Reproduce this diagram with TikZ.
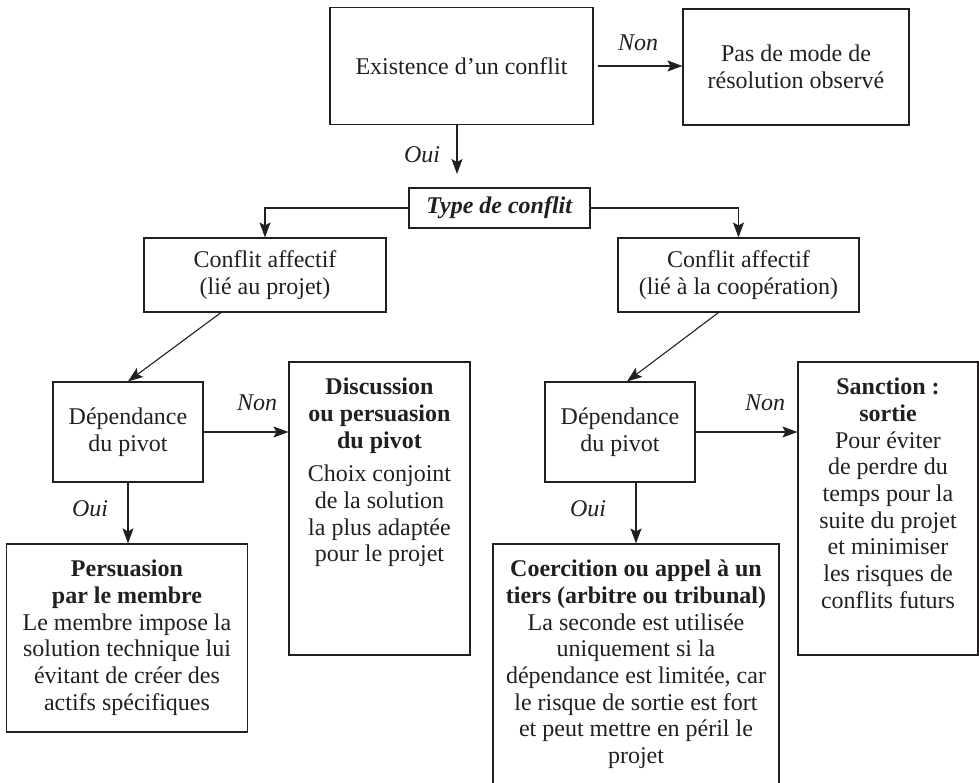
\documentclass[tikz,border=0pt]{standalone}
\usepackage{fontspec}
\setmainfont{Liberation Serif}
\usetikzlibrary{positioning}
\usetikzlibrary{arrows.meta}
\definecolor{ink}{RGB}{35,31,32}
\newcommand\topbox[3]{% width, height, text
  \parbox[c][#2][t]{#1}{\centering\vspace*{16pt}#3}%
}

\begin{document}
\begin{tikzpicture}[x=1pt,y=-1pt,
    every node/.style={font=\fontsize{24}{26.7}\selectfont, text=ink},
    box/.style={draw=ink, line width=1.1pt, align=center, inner sep=0pt},
    answer/.style={font=\fontsize{24}{26.7}\selectfont\itshape},
    arr/.style={draw=ink, line width=1.1pt, -{Stealth[length=15pt,width=11pt,inset=3pt]}}]
		\clip (0,0) rectangle (979,783);

		% top
		\node[box,minimum width=263pt,minimum height=117pt] (exist) at (461.5,66) {Existence d'un conflit};
		\node[box,minimum width=226pt,minimum height=116pt] (pas) at (796,67) {Pas de mode de\\résolution observé};
		\node[box,minimum width=181pt,minimum height=40pt] (type) at (499.5,208) {\textbf{\textit{Type de conflit}}};
		\coordinate (ouitip) at (457,174);

		\draw[arr,shorten <=4pt] (exist.east) -- (exist.east -| pas.west);
		\draw[arr] (exist.south -| ouitip) -- (ouitip);
		\node[answer] (non0) at (638,43) {Non};
		\node[answer] (oui0) at (422,155) {Oui};

		% two kinds of conflict
		\node[box,minimum width=242pt,minimum height=74pt] (conf1) at (265,275) {Conflit affectif\\(lié au projet)};
		\node[box,minimum width=241pt,minimum height=74pt] (conf2) at (738.5,275) {Conflit affectif\\(lié à la coopération)};

		\draw[arr] (type.west) -| (conf1.north);
		\draw[arr] (type.east) -| (conf2.north);

		% left branch
		\node[box,minimum width=150pt,minimum height=100pt] (dep1) at (128,432) {Dépendance\\du pivot};
		\node[box,minimum width=181pt] (disc) at (379.5,508.5) {\topbox{175pt}{293pt}{%
			\textbf{Discussion}\\\textbf{ou persuasion}\\\textbf{du pivot}\\[7pt]
			Choix conjoint\\de la solution\\la plus adaptée\\pour le projet}};
		\node[box,minimum width=241pt] (pers) at (127,638) {\topbox{235pt}{188pt}{%
			\textbf{Persuasion}\\\textbf{par le membre}\\
			Le membre impose la\\solution technique lui\\évitant de créer des\\actifs spécifiques}};

		\draw[arr] ([xshift=-44pt]conf1.south) -- (dep1.north);
		\draw[arr] (dep1.east) -- (dep1.east -| disc.west);
		\draw[arr] (dep1.south) -- (dep1.south |- pers.north);
		\node[answer] (non1) at (257,403) {Non};
		\node[answer] (oui1) at (90,509) {Oui};

		% right branch
		\node[box,minimum width=150pt,minimum height=100pt] (dep2) at (620,432) {Dépendance\\du pivot};
		\node[box,minimum width=180pt] (sanc) at (888,508.5) {\topbox{175pt}{293pt}{%
			\textbf{Sanction~:}\\\textbf{sortie}\\
			Pour éviter\\de perdre du\\temps pour la\\suite du projet\\et minimiser\\les risques de\\conflits futurs}};
		\node[box,minimum width=286pt] (coer) at (636,669) {\topbox{282pt}{250pt}{%
			\textbf{Coercition ou appel à un}\\\textbf{tiers (arbitre ou tribunal)}\\
			La seconde est utilisée\\uniquement si la\\dépendance est limitée, car\\le risque de sortie est fort\\et peut mettre en péril le\\projet}};

		\draw[arr] ([xshift=-20pt]conf2.south) -- ([xshift=7pt]dep2.north);
		\draw[arr] (dep2.east) -- (dep2.east -| sanc.west);
		\draw[arr] (dep2.south -| coer.north) -- (coer.north);
		\node[answer] (non2) at (765,403) {Non};
		\node[answer] (oui2) at (588,509) {Oui};
	\end{tikzpicture}
\end{document}
